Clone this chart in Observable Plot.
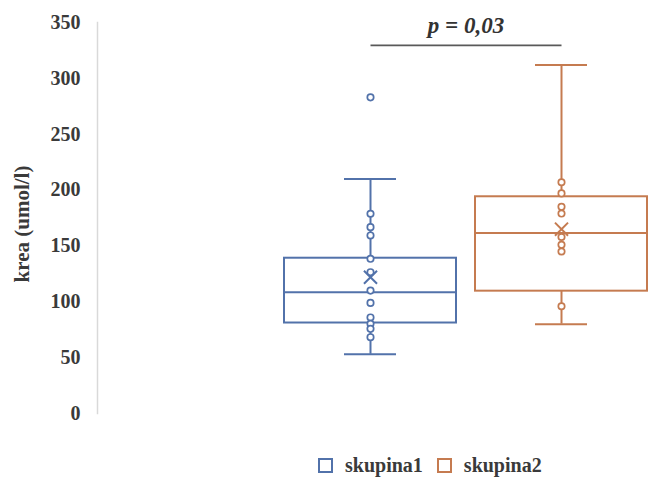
<!DOCTYPE html>
<html>
<head>
<meta charset="utf-8">
<script src="https://cdn.jsdelivr.net/npm/d3@7"></script>
<script src="https://cdn.jsdelivr.net/npm/@observablehq/plot@0.6"></script>
<style>
  body { margin: 0; background: #fff; width: 648px; height: 477px; position: relative; overflow: hidden; }
  #chart svg { display: block; }
  #legend { position: absolute; left: 318px; top: 454px; height: 22px; display: flex; align-items: center;
            font-family: "Liberation Serif", serif; font-weight: bold; font-size: 20px; color: #3a3a3a; }
  .sw { width: 11px; height: 11px; border: 2px solid; margin-right: 12px; }
  .item { display: flex; align-items: center; margin-right: 14px; }
</style>
</head>
<body>
<div id="chart"></div>
<div id="legend"></div>
<script>
const groups = ["skupina1", "skupina2"];
const colors = ["#5272aa", "#c57b50"];
const mins = [53, 80];
const q1s = [81, 109.5];
const medians = [108.5, 161.5];
const q3s = [139, 194];
const maxs = [210, 312];
const means = [122, 165];
const innerPoints1 = [178.8, 166.8, 159.4, 138.5, 126.5, 110, 99, 86, 80.3, 75.8, 68.3];
const innerPoints2 = [207, 197, 185, 179, 158, 151, 145, 96];
const outliers1 = [283];
const outliers2 = [];
const yTicks = [0, 50, 100, 150, 200, 250, 300, 350];
const pLabel = "p = 0,03";
const pBarValue = 329.5;
const pTextValue = 341;
const yLabel = "krea (umol/l)";

const stats = groups.map((g, i) => ({
  group: g, min: mins[i], q1: q1s[i], median: medians[i], q3: q3s[i], max: maxs[i], mean: means[i]
}));
const points = [
  ...innerPoints1.map(v => ({group: groups[0], value: v})),
  ...outliers1.map(v => ({group: groups[0], value: v})),
  ...innerPoints2.map(v => ({group: groups[1], value: v})),
  ...outliers2.map(v => ({group: groups[1], value: v}))
];

const serif = "'Liberation Serif', 'Times New Roman', serif";

const chart = Plot.plot({
  width: 648,
  height: 440,
  marginLeft: 97,
  marginRight: 1,
  marginTop: 22,
  marginBottom: 27,
  style: {fontFamily: serif, background: "#fff", overflow: "visible"},
  x: {type: "band", domain: groups, range: [284, 647], paddingInner: 0.1, paddingOuter: 0, axis: null},
  y: {domain: [0, 350], axis: null},
  color: {domain: groups, range: colors},
  marks: [
    Plot.frame({anchor: "left", stroke: "#d9d9d9", strokeWidth: 1.5}),
    Plot.axisY({ticks: yTicks, tickSize: 0, tickPadding: 17, fontSize: 20, fontWeight: "bold", fill: "#3a3a3a", label: null}),
    Plot.text([yLabel], {frameAnchor: "left", textAnchor: "middle", lineAnchor: "middle", rotate: -90, dx: -75, dy: 6, fontSize: 21, fontWeight: "bold", fill: "#3a3a3a", text: d => d}),
    // whiskers
    Plot.ruleX(stats, {x: "group", y1: "q3", y2: "max", stroke: "group", strokeWidth: 2}),
    Plot.ruleX(stats, {x: "group", y1: "min", y2: "q1", stroke: "group", strokeWidth: 2}),
    Plot.tickY(stats, {x: "group", y: "max", stroke: "group", strokeWidth: 2, insetLeft: 60, insetRight: 60}),
    Plot.tickY(stats, {x: "group", y: "min", stroke: "group", strokeWidth: 2, insetLeft: 60, insetRight: 60}),
    // boxes
    Plot.barY(stats, {x: "group", y1: "q1", y2: "q3", stroke: "group", fill: "none", strokeWidth: 2}),
    Plot.tickY(stats, {x: "group", y: "median", stroke: "group", strokeWidth: 2}),
    // points
    Plot.dot(points, {x: "group", y: "value", stroke: "group", fill: "white", r: 3.2, strokeWidth: 1.7}),
    Plot.dot(stats, {x: "group", y: "mean", stroke: "group", symbol: "times", r: 6, strokeWidth: 2}),
    // significance bar
    Plot.link([0], {x1: () => groups[0], x2: () => groups[1], y1: () => pBarValue, y2: () => pBarValue, stroke: "#595959", strokeWidth: 1.8}),
    Plot.text([pLabel], {x: () => groups[0], y: () => pTextValue, dx: 95.5, text: d => d, fontSize: 23, fontWeight: "bold", fontStyle: "italic", fill: "#333", lineAnchor: "bottom"})
  ]
});
document.getElementById("chart").append(chart);

const legend = document.getElementById("legend");
groups.forEach((g, i) => {
  const item = document.createElement("div");
  item.className = "item";
  const sw = document.createElement("div");
  sw.className = "sw";
  sw.style.borderColor = colors[i];
  const t = document.createElement("span");
  t.textContent = g;
  item.append(sw, t);
  legend.append(item);
});
</script>
</body>
</html>
